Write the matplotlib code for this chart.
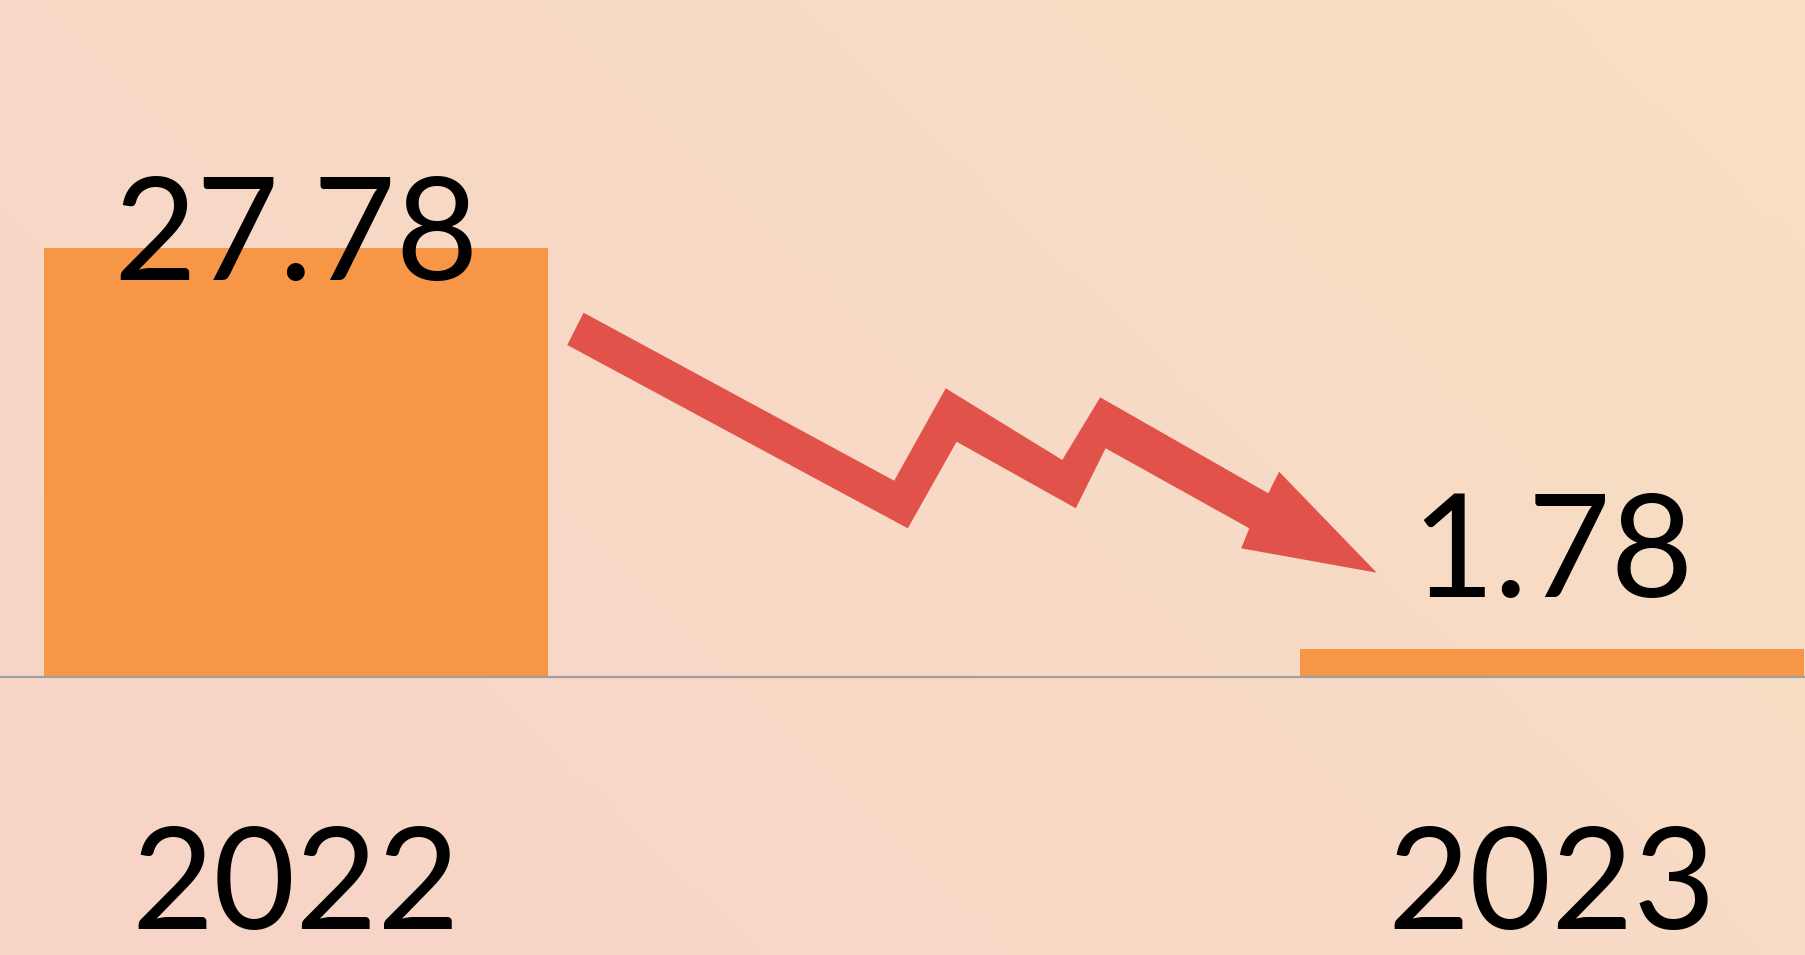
import numpy as np
import matplotlib
matplotlib.use('Agg')
import matplotlib.pyplot as plt
from matplotlib.patches import Polygon

# datos del gráfico
anios = ['2022', '2023']
valores = [27.78, 1.78]
etiquetas = ['27.78', '1.78']

W, H = 1806, 955
fig = plt.figure(figsize=(W / 100, H / 100), dpi=100)

# fondo con degradado (rosado a la izquierda, melocotón arriba a la derecha)
bg = fig.add_axes([0, 0, 1, 1], zorder=0)
gx, gy = np.meshgrid(np.linspace(0, 1, 200), np.linspace(0, 1, 100))
t = np.clip(0.65 * gx + 0.35 * (1 - gy), 0, 1)
c0 = np.array([247, 212, 199]) / 255
c1 = np.array([248, 223, 196]) / 255
img = c0[None, None, :] * (1 - t[..., None]) + c1[None, None, :] * t[..., None]
bg.imshow(img, aspect='auto', extent=[0, 1, 0, 1], origin='upper')
bg.axis('off')

# ejes: base de las barras en y=677 px desde arriba
base_px = 677
ax = fig.add_axes([0, (H - base_px) / H, 1, base_px / H], zorder=1)
ax.patch.set_alpha(0)
x = np.arange(len(anios))
ax.bar(x, valores, width=0.402, color='#F79646', zorder=2)
ax.set_xlim(-0.2357, 1.2022)
ax.set_ylim(0, base_px / 15.45)
for s in ['top', 'right', 'left']:
    ax.spines[s].set_visible(False)
ax.spines['bottom'].set_color('#A0A0A0')
ax.spines['bottom'].set_linewidth(1.6)
ax.spines['bottom'].set_zorder(3)
ax.set_yticks([])
ax.set_xticks(x)
ax.set_xticklabels(anios, fontsize=102, family='Lato')
ax.tick_params(axis='x', length=0, pad=106)

# etiquetas de valor
desplaz = [-2.1, 3.4]
for xi, v, lab, d in zip(x, valores, etiquetas, desplaz):
    ax.text(xi, v + d, lab, ha='center', va='baseline', fontsize=103,
            family='Lato', color='black', zorder=4)

# flecha en zigzag hacia abajo
flecha_px = [(583.6, 312.7), (894.2, 480.7), (945.7, 388.3), (1062.3, 460.0),
             (1100.2, 397.3), (1268.3, 493.3), (1279.1, 471.7), (1376.7, 572.7),
             (1241.2, 548.3), (1249.3, 528.3), (1105.6, 448.3), (1075.8, 508.3),
             (956.6, 441.7), (907.8, 528.3), (567.3, 345.0)]
pts = [(px / W, 1 - py / H) for px, py in flecha_px]
fig.patches.append(Polygon(pts, closed=True, facecolor='#E0524A', edgecolor='none',
                           transform=fig.transFigure, zorder=5))

fig.savefig('out.png', dpi=100)
